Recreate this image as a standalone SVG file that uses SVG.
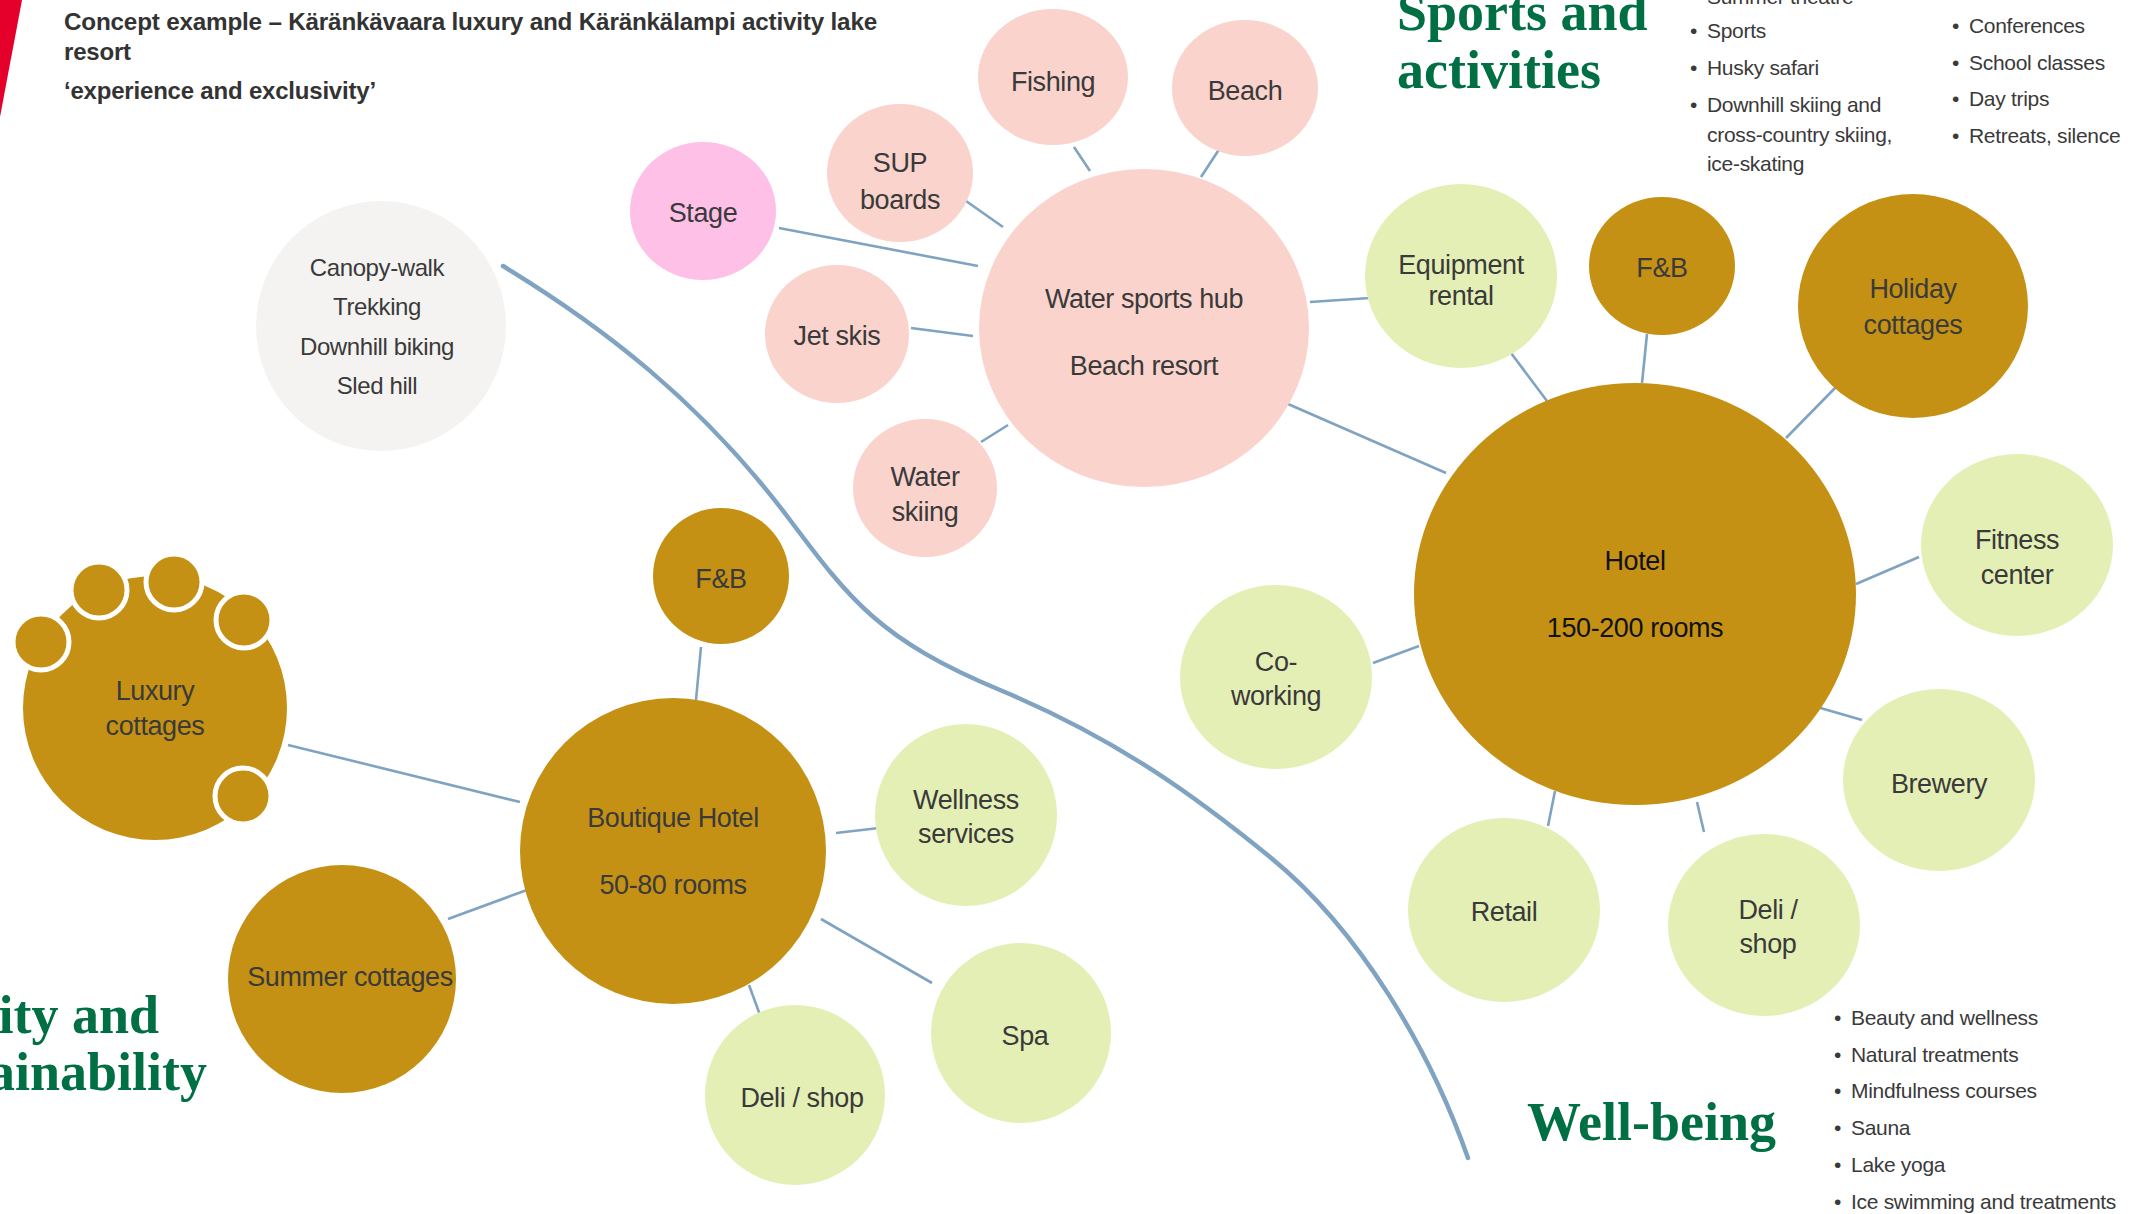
<svg xmlns="http://www.w3.org/2000/svg" width="2131" height="1214" viewBox="0 0 2131 1214">
<style>
.lbl{font-family:"Liberation Sans",Arial,sans-serif;font-size:27px;fill:#3a3a3a;text-anchor:middle;letter-spacing:-0.4px}
.blk{fill:#111111}
.can{font-size:24px}
.salmon{fill:#F9D3CC}
.stage{fill:#FEC0E6}
.green{fill:#E4EFB5}
.gold{fill:#C49114}
.gray{fill:#F4F3F1}
.con{stroke:#7FA3C1;stroke-width:2.6;fill:none}
.curve{stroke:#7FA3C1;stroke-width:4.5;fill:none;stroke-linecap:round}
.head{font-family:"Liberation Serif","Times New Roman",serif;font-weight:bold;font-size:54px;fill:#006F44}
.bul{font-family:"Liberation Sans",Arial,sans-serif;font-size:21px;fill:#3a3a3a;letter-spacing:-0.3px}
.title{font-family:"Liberation Sans",Arial,sans-serif;font-weight:bold;font-size:24px;fill:#333333;letter-spacing:-0.2px}
.cot{fill:#C49114;stroke:#ffffff;stroke-width:5}
</style>
<rect width="2131" height="1214" fill="#ffffff"/>
<polygon points="0,0 22,0 0,117" fill="#E4002B"/>
<g id="title">
<text class="title" x="64" y="30" textLength="813" lengthAdjust="spacingAndGlyphs">Concept example – Käränkävaara luxury and Käränkälampi activity lake</text>
<text class="title" x="64" y="60">resort</text>
<text class="title" x="64" y="99">‘experience and exclusivity’</text>
</g>
<g id="connectors">
<path class="curve" d="M503,266 C600,325 700,400 790,520 C850,600 880,640 1000,690 C1120,740 1200,800 1270,857 C1360,930 1430,1050 1468,1158"/>
<line class="con" x1="779" y1="228" x2="978" y2="266"/>
<line class="con" x1="966" y1="201" x2="1003" y2="227"/>
<line class="con" x1="1074" y1="147" x2="1090" y2="171"/>
<line class="con" x1="1220" y1="148" x2="1201" y2="177"/>
<line class="con" x1="911" y1="328" x2="973" y2="336"/>
<line class="con" x1="981" y1="442" x2="1008" y2="425"/>
<line class="con" x1="1310" y1="302" x2="1370" y2="298"/>
<line class="con" x1="1288" y1="404" x2="1446" y2="473"/>
<line class="con" x1="1511" y1="353" x2="1547" y2="401"/>
<line class="con" x1="1647" y1="334" x2="1642" y2="383"/>
<line class="con" x1="1837" y1="386" x2="1786" y2="438"/>
<line class="con" x1="1919" y1="557" x2="1856" y2="584"/>
<line class="con" x1="1373" y1="663" x2="1419" y2="646"/>
<line class="con" x1="1862" y1="720" x2="1817" y2="707"/>
<line class="con" x1="1548" y1="826" x2="1555" y2="791"/>
<line class="con" x1="1704" y1="832" x2="1697" y2="802"/>
<line class="con" x1="288" y1="745" x2="520" y2="802"/>
<line class="con" x1="448" y1="919" x2="527" y2="890"/>
<line class="con" x1="701" y1="647" x2="696" y2="700"/>
<line class="con" x1="836" y1="833" x2="879" y2="828"/>
<line class="con" x1="821" y1="919" x2="932" y2="983"/>
<line class="con" x1="749" y1="985" x2="760" y2="1015"/>
</g>
<g id="canopy"><circle class="gray" cx="381" cy="326" r="125"/>
<text class="lbl can" x="377" y="276">Canopy-walk</text><text class="lbl can" x="377" y="315">Trekking</text><text class="lbl can" x="377" y="355">Downhill biking</text><text class="lbl can" x="377" y="394">Sled hill</text></g>
<g id="stage"><ellipse class="stage" cx="703" cy="211" rx="73" ry="69"/><text class="lbl" x="703" y="222">Stage</text></g>
<g id="sup"><ellipse class="salmon" cx="900" cy="173" rx="73" ry="69"/><text class="lbl" x="900" y="172">SUP</text><text class="lbl" x="900" y="209">boards</text></g>
<g id="fishing"><ellipse class="salmon" cx="1053" cy="77" rx="75" ry="68"/><text class="lbl" x="1053" y="91">Fishing</text></g>
<g id="beach"><ellipse class="salmon" cx="1245" cy="88" rx="73" ry="68"/><text class="lbl" x="1245" y="100">Beach</text></g>
<g id="watersports"><ellipse class="salmon" cx="1144" cy="328" rx="165" ry="159"/><text class="lbl" x="1144" y="308">Water sports hub</text><text class="lbl" x="1144" y="375">Beach resort</text></g>
<g id="jetskis"><ellipse class="salmon" cx="837" cy="334" rx="72" ry="69"/><text class="lbl" x="837" y="345">Jet skis</text></g>
<g id="waterskiing"><ellipse class="salmon" cx="925" cy="488" rx="72" ry="69"/><text class="lbl" x="925" y="486">Water</text><text class="lbl" x="925" y="521">skiing</text></g>
<g id="equipment"><ellipse class="green" cx="1461" cy="276" rx="96" ry="92"/><text class="lbl" x="1461" y="274">Equipment</text><text class="lbl" x="1461" y="305">rental</text></g>
<g id="fb-hotel"><ellipse class="gold" cx="1662" cy="266" rx="73" ry="69"/><text class="lbl" x="1662" y="277">F&amp;B</text></g>
<g id="holiday"><ellipse class="gold" cx="1913" cy="306" rx="115" ry="112"/><text class="lbl" x="1913" y="298">Holiday</text><text class="lbl" x="1913" y="334">cottages</text></g>
<g id="hotel"><ellipse class="gold" cx="1635" cy="594" rx="221" ry="211"/><text class="lbl blk" x="1635" y="570">Hotel</text><text class="lbl blk" x="1635" y="637">150-200 rooms</text></g>
<g id="fitness"><ellipse class="green" cx="2017" cy="545" rx="96" ry="91"/><text class="lbl" x="2017" y="549">Fitness</text><text class="lbl" x="2017" y="584">center</text></g>
<g id="coworking"><ellipse class="green" cx="1276" cy="677" rx="96" ry="92"/><text class="lbl" x="1276" y="671">Co-</text><text class="lbl" x="1276" y="705">working</text></g>
<g id="brewery"><ellipse class="green" cx="1939" cy="780" rx="96" ry="91"/><text class="lbl" x="1939" y="793">Brewery</text></g>
<g id="retail"><ellipse class="green" cx="1504" cy="910" rx="96" ry="92"/><text class="lbl" x="1504" y="921">Retail</text></g>
<g id="deli-hotel"><ellipse class="green" cx="1764" cy="925" rx="96" ry="91"/><text class="lbl" x="1768" y="919">Deli /</text><text class="lbl" x="1768" y="953">shop</text></g>
<g id="fb-boutique"><circle class="gold" cx="721" cy="576" r="68"/><text class="lbl" x="721" y="588">F&amp;B</text></g>
<g id="luxury"><circle class="gold" cx="155" cy="708" r="132"/>
<circle class="cot" cx="41" cy="642" r="28"/><circle class="cot" cx="99" cy="590" r="28"/><circle class="cot" cx="174" cy="582" r="28"/><circle class="cot" cx="244" cy="620" r="28"/><circle class="cot" cx="243" cy="796" r="28"/>
<text class="lbl" x="155" y="700">Luxury</text><text class="lbl" x="155" y="735">cottages</text></g>
<g id="boutique"><circle class="gold" cx="673" cy="851" r="153"/><text class="lbl" x="673" y="827">Boutique Hotel</text><text class="lbl" x="673" y="894">50-80 rooms</text></g>
<g id="summer"><circle class="gold" cx="342" cy="979" r="114"/><text class="lbl" x="350" y="986">Summer cottages</text></g>
<g id="wellness"><circle class="green" cx="966" cy="815" r="91"/><text class="lbl" x="966" y="809">Wellness</text><text class="lbl" x="966" y="843">services</text></g>
<g id="spa"><circle class="green" cx="1021" cy="1033" r="90"/><text class="lbl" x="1025" y="1045">Spa</text></g>
<g id="deli-boutique"><circle class="green" cx="795" cy="1095" r="90"/><text class="lbl" x="802" y="1107">Deli / shop</text></g>
<g id="headings">
<text class="head" x="1397" y="30">Sports and</text>
<text class="head" x="1397" y="88">activities</text>
<text class="head" x="1527" y="1140">Well-being</text>
<text class="head" x="159" y="1033" text-anchor="end">ity and</text>
<text class="head" x="207" y="1090" text-anchor="end">ainability</text>
</g>
<g id="list-sports">
<text class="bul" x="1690" y="4">•</text><text class="bul" x="1707" y="4">Summer theatre</text>
<text class="bul" x="1690" y="38">•</text><text class="bul" x="1707" y="38">Sports</text>
<text class="bul" x="1690" y="75">•</text><text class="bul" x="1707" y="75">Husky safari</text>
<text class="bul" x="1690" y="112">•</text><text class="bul" x="1707" y="112">Downhill skiing and</text>
<text class="bul" x="1707" y="142">cross-country skiing,</text>
<text class="bul" x="1707" y="171">ice-skating</text>
</g>
<g id="list-groups">
<text class="bul" x="1952" y="33">•</text><text class="bul" x="1969" y="33">Conferences</text>
<text class="bul" x="1952" y="70">•</text><text class="bul" x="1969" y="70">School classes</text>
<text class="bul" x="1952" y="106">•</text><text class="bul" x="1969" y="106">Day trips</text>
<text class="bul" x="1952" y="143">•</text><text class="bul" x="1969" y="143">Retreats, silence</text>
</g>
<g id="list-wellbeing">
<text class="bul" x="1834" y="1025">•</text><text class="bul" x="1851" y="1025">Beauty and wellness</text>
<text class="bul" x="1834" y="1062">•</text><text class="bul" x="1851" y="1062">Natural treatments</text>
<text class="bul" x="1834" y="1098">•</text><text class="bul" x="1851" y="1098">Mindfulness courses</text>
<text class="bul" x="1834" y="1135">•</text><text class="bul" x="1851" y="1135">Sauna</text>
<text class="bul" x="1834" y="1172">•</text><text class="bul" x="1851" y="1172">Lake yoga</text>
<text class="bul" x="1834" y="1209">•</text><text class="bul" x="1851" y="1209">Ice swimming and treatments</text>
</g>
</svg>
